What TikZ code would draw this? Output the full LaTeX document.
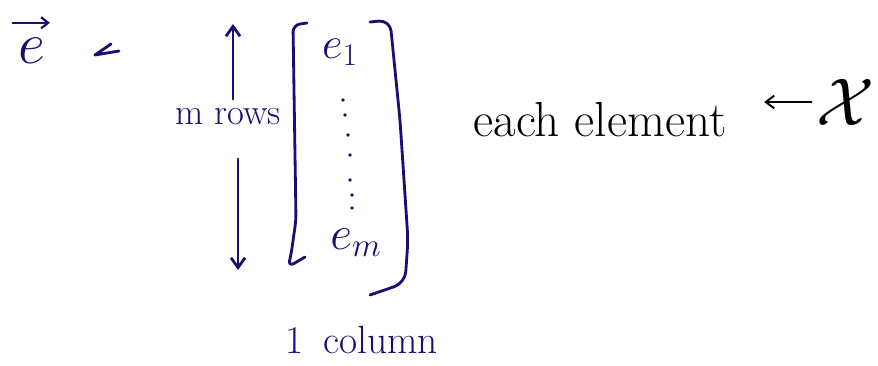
\RequirePackage{fix-cm}
\documentclass[tikz,border=0pt]{standalone}
\usepackage{amsmath,amssymb}
\usepackage{xcolor}
\usetikzlibrary{arrows.meta,positioning}
\definecolor{inkblue}{RGB}{25,15,115}

\begin{document}
\begin{tikzpicture}[x=0.025cm,y=-0.025cm,
  ink/.style={draw=inkblue,line width=2pt,line cap=round,line join=round},
  arr/.style={ink,-{Straight Barb[length=7pt,width=10pt]}},
  arrk/.style={draw=black,line width=1.4pt,line cap=round,-{Straight Barb[length=6pt,width=9pt]}},
  bluetxt/.style={text=inkblue,inner sep=1pt},
  blacktxt/.style={text=black,inner sep=1pt}
]
\useasboundingbox (0,0) rectangle (878,366);

% vector and its "<" mark
\node[bluetxt,inner sep=0pt,anchor=base,font=\fontsize{42}{46}\selectfont] (vecE) at (32,64) {$e$};
\draw[ink,line width=1.6pt,-{Straight Barb[length=5pt,width=8pt]}]
  ([xshift=-4pt,yshift=11pt]vecE.north west) -- ([xshift=3pt,yshift=11pt]vecE.north east);
\draw[ink] (111,44) -- (95,55) -- (119,51);

% m rows with its two arrows
\node[bluetxt,font=\fontsize{26}{30}\selectfont] (rows) at (228,117) {m rows};
\coordinate (upEnd) at (233,24);
\coordinate (downEnd) at (238,270);
\draw[arr,shorten <=0.2cm] (rows.north -| upEnd) -- (upEnd);
\draw[arr,shorten <=0.8cm] (rows.south -| downEnd) -- (downEnd);

% brackets
\draw[ink,rounded corners=5pt] (307,23) -- (293,25) -- (296,220) -- (291,255) -- (288,267) -- (305,257);
\draw[ink,rounded corners=8pt] (370,22) -- (390,20) -- (400,120) -- (408,240) -- (405,283) -- (370,295);

% entries
\node[bluetxt,font=\fontsize{32}{36}\selectfont] (eOne) at (340,52) {$e_1$};
\foreach \dx/\dy in {343/100,345/115,348/135,350/155,350/180,352/195,352/208}
  \fill[inkblue] (\dx,\dy) circle (1.4pt);
\node[bluetxt,font=\fontsize{34}{38}\selectfont] (eM) at (356,243) {$e_m$};

% column label
\node[bluetxt,font=\fontsize{28}{32}\selectfont,anchor=west] (col) at (284,340) {1\hspace{0.5em}column};

% each element <- X
\node[blacktxt,font=\fontsize{35}{40}\selectfont] (elem) at (600,120) {each element};
\node[blacktxt,font=\fontsize{48}{52}\selectfont] (setX) at (845,102) {$\mathcal{X}$};
\draw[arrk,shorten >=0.9cm,shorten <=2pt] (setX.west) -- (setX.west -| elem.east);
\end{tikzpicture}
\end{document}
